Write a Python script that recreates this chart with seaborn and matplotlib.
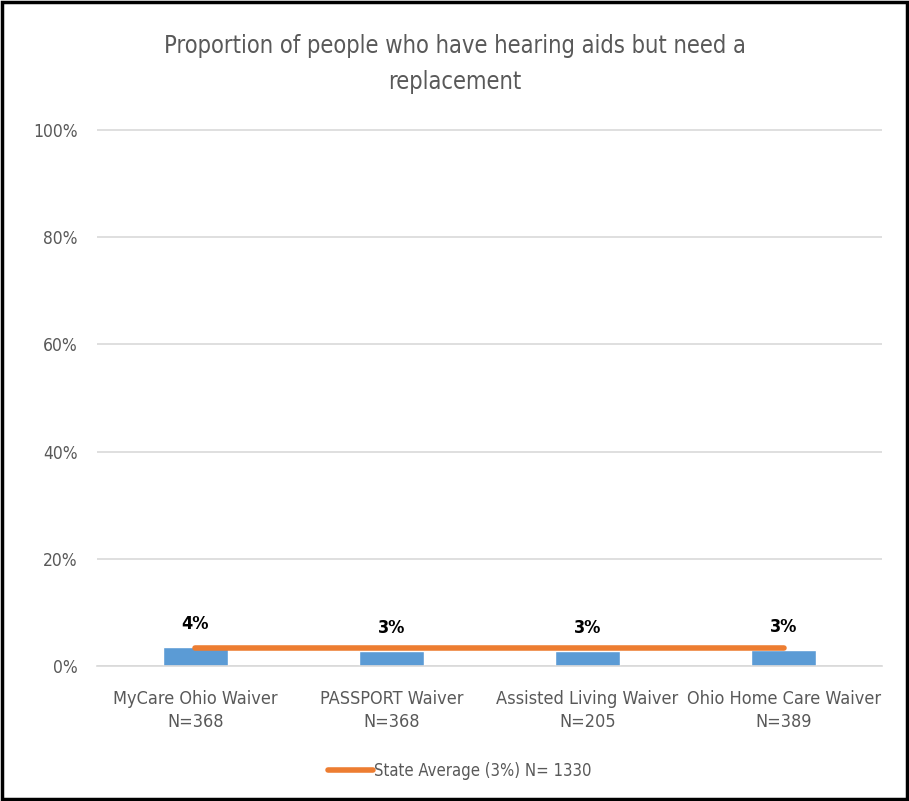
import matplotlib
matplotlib.use('Agg')
import matplotlib.pyplot as plt
import seaborn as sns
import pandas as pd
from matplotlib.patches import Rectangle

# Dados do gráfico
programas = ['MyCare Ohio Waiver\nN=368', 'PASSPORT Waiver\nN=368',
             'Assisted Living Waiver\nN=205', 'Ohio Home Care Waiver\nN=389']
proporcao = [3.6, 2.8, 2.8, 3.0]
rotulos = ['4%', '3%', '3%', '3%']
media_estado = [3.3, 3.3, 3.3, 3.3]
rotulo_media = 'State Average (3%) N= 1330'
titulo = 'Proportion of people who have hearing aids but need a\nreplacement'

sns.set_style('white')
plt.rcParams['font.family'] = ['DejaVu Sans']
plt.rcParams['font.stretch'] = 'condensed'
cinza = '#595959'

df = pd.DataFrame({'programa': programas, 'proporcao': proporcao})

fig = plt.figure(figsize=(9.09, 8.01), dpi=100)
ax = fig.add_axes([0.107, 0.1685, 0.863, 0.6715])

sns.barplot(ax=ax, data=df, x='programa', y='proporcao', color='#5B9BD5',
            width=0.33, saturation=1)
sns.lineplot(ax=ax, x=list(range(len(programas))), y=media_estado, color='#ED7D31',
             linewidth=4, label=rotulo_media)

for i, (v, r) in enumerate(zip(proporcao, rotulos)):
    ax.text(i, v + 2.6, r, ha='center', va='bottom', fontsize=13,
            fontweight='bold', color='black')

ax.set_xlim(-0.5, 3.5)
ax.set_ylim(0, 100.3)
ax.set_yticks(range(0, 101, 20))
ax.set_yticklabels([f'{t}%' for t in range(0, 101, 20)])
ax.yaxis.grid(True, color='#d9d9d9', linewidth=1.2)
ax.set_axisbelow(True)
for lado in ['top', 'right', 'left']:
    ax.spines[lado].set_visible(False)
ax.spines['bottom'].set_color('#d9d9d9')
ax.spines['bottom'].set_linewidth(1.2)
ax.tick_params(axis='both', colors=cinza, length=0)
ax.tick_params(axis='y', pad=14, labelsize=12.5)
ax.tick_params(axis='x', pad=17, labelsize=13)
for t in ax.get_xticklabels():
    t.set_linespacing(1.4)
ax.set_xlabel('')
ax.set_ylabel('')

fig.suptitle(titulo, x=0.5, y=0.958, fontsize=17, color=cinza, va='top',
             linespacing=1.65)

leg = ax.legend(loc='upper center', bbox_to_anchor=(0.462, -0.15), frameon=False,
                fontsize=12, handlelength=2.7, handletextpad=0.1, labelcolor=cinza)

fig.patches.append(Rectangle((0.002, 0.002), 0.996, 0.996, transform=fig.transFigure,
                             fill=False, edgecolor='black', linewidth=2.5))

fig.savefig('out.png', dpi=100)
